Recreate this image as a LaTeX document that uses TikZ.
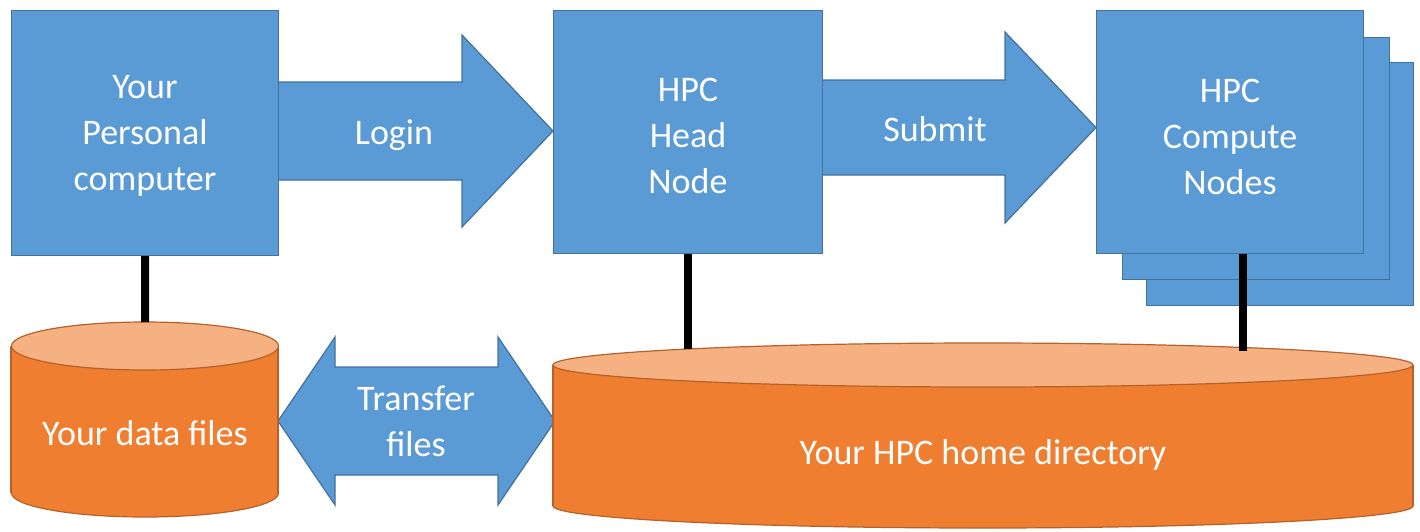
\documentclass[tikz,border=0pt]{standalone}
\usepackage{fontspec}
\setmainfont{Carlito}
\definecolor{boxblue}{HTML}{5B9BD5}
\definecolor{boxedge}{HTML}{41719C}
\definecolor{cylorange}{HTML}{F07E30}
\definecolor{cyltop}{HTML}{F6B183}
\definecolor{cyledge}{HTML}{B5612A}
\begin{document}
\begin{tikzpicture}[x=1pt,y=-1pt,
  blk/.style={draw=boxedge, fill=boxblue, line width=1.2pt, inner sep=0pt},
  bigarrow/.style={draw=boxedge, fill=boxblue, line width=1.2pt},
  lbl/.style={text=white, font=\fontsize{36}{46}\selectfont, align=center, inner sep=0pt},
  cylbody/.style={fill=cylorange},
  cylline/.style={draw=cyledge, line width=1.2pt},
  cyltopst/.style={draw=cyledge, fill=cyltop, line width=1.2pt},
  wire/.style={line width=8pt, black}]
\useasboundingbox (0,0) rectangle (1420,531);

% big arrows
\draw[bigarrow] (278,82) -- (462,82) -- (462,35) -- (553,131) -- (462,227) -- (462,180) -- (278,180) -- cycle;
\node[lbl] (login) at (394,135) {Login};
\draw[bigarrow] (822,80) -- (1005,80) -- (1005,32) -- (1096,127.5) -- (1005,223) -- (1005,175) -- (822,175) -- cycle;
\node[lbl] (submit) at (935,129) {Submit};
\draw[bigarrow] (278,421) -- (335,337) -- (335,367) -- (498,367) -- (498,337) -- (555,421) -- (498,505) -- (498,475) -- (335,475) -- (335,505) -- cycle;
\node[lbl] (transfer) at (416,421) {Transfer\\files};

% boxes
\node[blk, minimum width=267pt, minimum height=245pt, anchor=north west] (pc) at (11,10) {};
\node[lbl] (pctext) at (145,136) {Your\\Personal\\computer};
\node[blk, minimum width=269pt, minimum height=243pt, anchor=north west] (head) at (553,10) {};
\node[lbl] (headtext) at (688,136) {HPC\\Head\\Node};
\node[blk, minimum width=267pt, minimum height=243pt, anchor=north west] (cn3) at (1146,62) {};
\node[blk, minimum width=267pt, minimum height=242pt, anchor=north west] (cn2) at (1122,37) {};
\node[blk, minimum width=267pt, minimum height=243pt, anchor=north west] (cn) at (1096,10) {};
\node[lbl] (cntext) at (1230,137) {HPC\\Compute\\Nodes};

% cylinder 1: your data files
\filldraw[cylline, fill=cylorange] (145,493) ellipse [x radius=133.5, y radius=24];
\fill[cylbody] (11,346) rectangle (278,493);
\draw[cylline] (11,346) -- (11,493) (278,346) -- (278,493);
\filldraw[cyltopst] (145,346) ellipse [x radius=133.5, y radius=24];
\coordinate (dataTop) at (145,322);
\node[lbl] (data) at (145,433) {Your data files};

% cylinder 2: HPC home directory
\filldraw[cylline, fill=cylorange] (983,506) ellipse [x radius=430, y radius=22];
\fill[cylbody] (553,365) rectangle (1413,506);
\draw[cylline] (553,365) -- (553,506) (1413,365) -- (1413,506);
\filldraw[cyltopst] (983,365) ellipse [x radius=430, y radius=22];
\coordinate (homeTopA) at (688,349);
\coordinate (homeTopB) at (1243,351);
\node[lbl] (home) at (983,455) {Your HPC home directory};

% wires
\draw[wire] (pc.south) -- (dataTop);
\draw[wire] (head.south -| homeTopA) -- (homeTopA);
\draw[wire] (cn.south -| homeTopB) -- (homeTopB);
\end{tikzpicture}
\end{document}
